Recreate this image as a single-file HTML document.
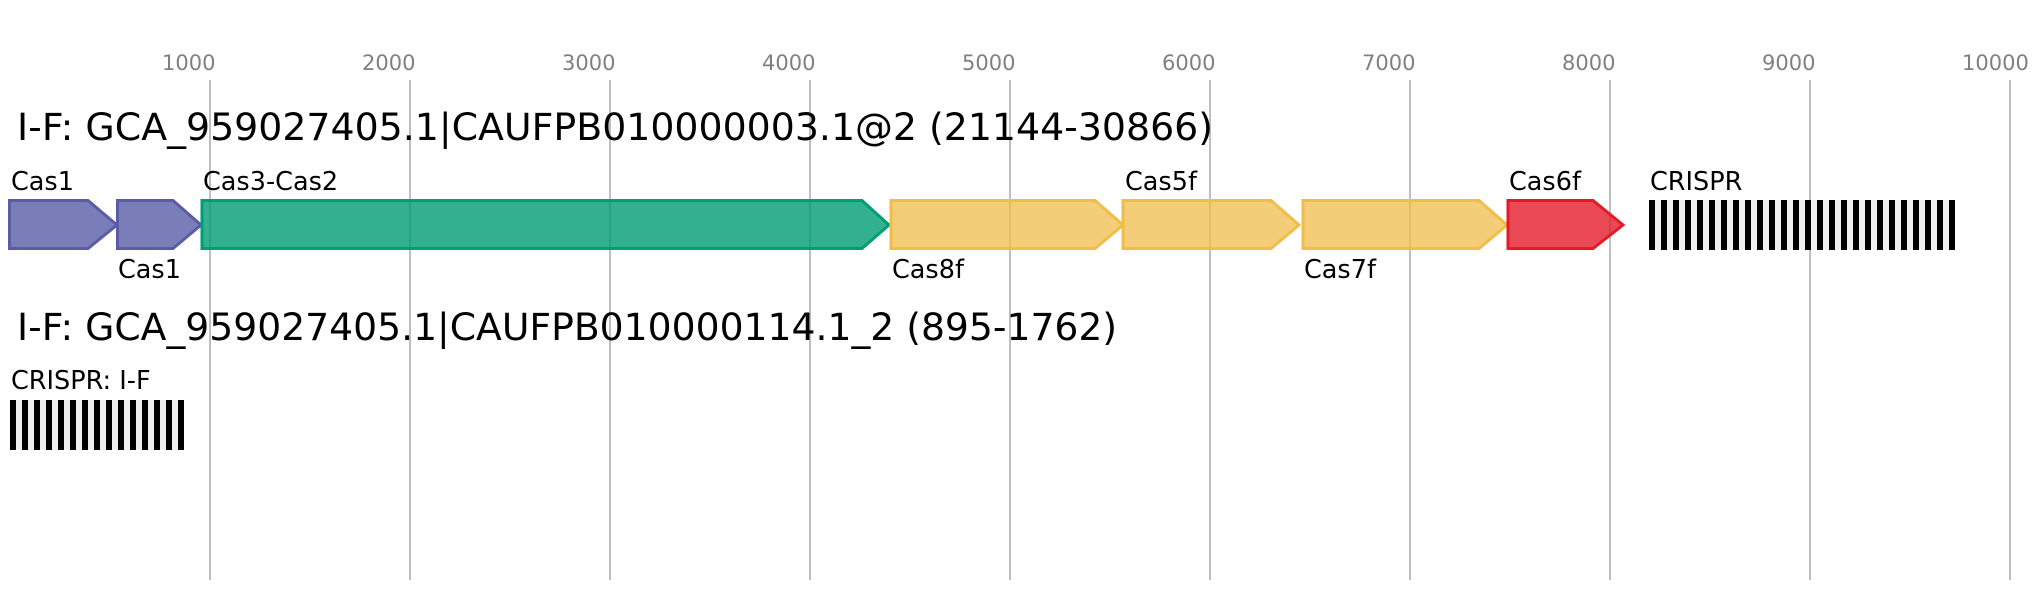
<!DOCTYPE html>
<html><head><meta charset="utf-8"><style>
html,body{margin:0;padding:0;background:#fff;}
svg{display:block;font-family:"DejaVu Sans","Liberation Sans",sans-serif;}
</style></head><body>
<svg width="2044" height="600" viewBox="0 0 2044 600" xmlns="http://www.w3.org/2000/svg">
<defs>
<pattern id="cr" x="10" y="0" width="12" height="600" patternUnits="userSpaceOnUse">
<rect x="0" y="0" width="12" height="600" fill="#efefef"/>
<rect x="0" y="0" width="6" height="600" fill="#000"/>
</pattern>
<pattern id="cr1" x="1649" y="0" width="12" height="600" patternUnits="userSpaceOnUse">
<rect x="0" y="0" width="12" height="600" fill="#efefef"/>
<rect x="0" y="0" width="6" height="600" fill="#000"/>
</pattern>
</defs>
<g stroke="#bfbfbf" stroke-width="2">
<line x1="210" y1="80" x2="210" y2="580"/><line x1="410" y1="80" x2="410" y2="580"/>
<line x1="610" y1="80" x2="610" y2="580"/><line x1="810" y1="80" x2="810" y2="580"/>
<line x1="1010" y1="80" x2="1010" y2="580"/><line x1="1210" y1="80" x2="1210" y2="580"/>
<line x1="1410" y1="80" x2="1410" y2="580"/><line x1="1610" y1="80" x2="1610" y2="580"/>
<line x1="1810" y1="80" x2="1810" y2="580"/><line x1="2010" y1="80" x2="2010" y2="580"/>
</g>
<g fill="#808080" font-size="21">
<text x="162" y="70">1000</text><text x="362" y="70">2000</text><text x="562" y="70">3000</text>
<text x="762" y="70">4000</text><text x="962" y="70">5000</text><text x="1162" y="70">6000</text>
<text x="1362" y="70">7000</text><text x="1562" y="70">8000</text><text x="1762" y="70">9000</text>
<text x="1962" y="70">10000</text>
</g>
<text x="17" y="140" font-size="37.7" fill="#000" textLength="1196" lengthAdjust="spacingAndGlyphs">I-F: GCA_959027405.1|CAUFPB010000003.1@2 (21144-30866)</text>
<text x="17" y="340" font-size="37.7" fill="#000">I-F: GCA_959027405.1|CAUFPB010000114.1_2 (895-1762)</text>
<g stroke-width="3" stroke-linejoin="miter">
<polygon points="9.5,200.5 88,200.5 117,225 88,248.5 9.5,248.5" fill="#7b7db8" stroke="#5a5ca6"/>
<polygon points="117.5,200.5 173,200.5 201,225 173,248.5 117.5,248.5" fill="#7b7db8" stroke="#5a5ca6"/>
<polygon points="202,200.5 862,200.5 889,225 862,248.5 202,248.5" fill="rgba(0,158,115,0.8)" stroke="#009e73"/>
<polygon points="891,200.5 1095,200.5 1123,225 1095,248.5 891,248.5" fill="rgba(239,190,74,0.75)" stroke="#efbe4a"/>
<polygon points="1123,200.5 1271,200.5 1299,225 1271,248.5 1123,248.5" fill="rgba(239,190,74,0.75)" stroke="#efbe4a"/>
<polygon points="1303,200.5 1479,200.5 1507,225 1479,248.5 1303,248.5" fill="rgba(239,190,74,0.75)" stroke="#efbe4a"/>
<polygon points="1508,200.5 1593,200.5 1623,225 1593,248.5 1508,248.5" fill="rgba(227,26,42,0.8)" stroke="#e31a2a"/>
</g>
<rect x="1649" y="200" width="306" height="50" fill="url(#cr1)"/>
<rect x="10" y="400" width="174" height="50" fill="url(#cr)"/>
<g fill="#000" font-size="25.5">
<text x="11" y="190">Cas1</text>
<text x="118" y="278">Cas1</text>
<text x="203" y="190">Cas3-Cas2</text>
<text x="892" y="278">Cas8f</text>
<text x="1125" y="190">Cas5f</text>
<text x="1304" y="278">Cas7f</text>
<text x="1509" y="190">Cas6f</text>
<text x="1650" y="190">CRISPR</text>
<text x="11" y="389">CRISPR: I-F</text>
</g>
</svg>
</body></html>
